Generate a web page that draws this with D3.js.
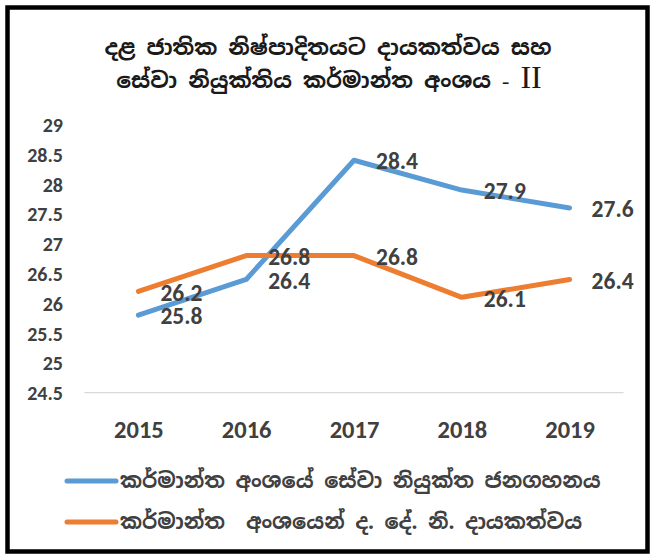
<!DOCTYPE html>
<html>
<head>
<meta charset="utf-8">
<script src="https://cdn.jsdelivr.net/npm/d3@7"></script>
<style>
  html, body { margin: 0; padding: 0; background: #fff; }
  svg { display: block; }
</style>
</head>
<body>
<svg id="chart" width="651" height="557"></svg>
<script>
const years = ["2015", "2016", "2017", "2018", "2019"];
const serviceEmployment = [25.8, 26.4, 28.4, 27.9, 27.6];
const gdpContribution = [26.2, 26.8, 26.8, 26.1, 26.4];
const yTicks = [24.5, 25, 25.5, 26, 26.5, 27, 27.5, 28, 28.5, 29];
const titleLine1 = "දළ ජාතික නිෂ්පාදිතයට දායකත්වය සහ";
const titleLine2 = "සේවා නියුක්තිය කර්මාන්ත අංශය";
const titleDash = "  -  ";
const titleNumeral = "II";
const seriesNames = ["කර්මාන්ත අංශයේ සේවා නියුක්ත ජනගහනය", "කර්මාන්ත  අංශයෙන් ද. දේ. නි. දායකත්වය"];
const seriesColors = ["#5B9BD5", "#ED7D31"];

const svg = d3.select("#chart");
const numFont = "Carlito, Lato, 'Liberation Sans', sans-serif";
const sinFont = "'Noto Sans Sinhala', 'Iskoola Pota', 'Noto Serif Sinhala', 'Noto Sans', sans-serif";
const serifFont = "'Liberation Serif', 'DejaVu Serif', serif";

svg.append("rect").attr("x", 7.5).attr("y", 7.5).attr("width", 640).attr("height", 544)
  .attr("fill", "#fff").attr("stroke", "#000").attr("stroke-width", 4.5);

svg.append("text").attr("text-anchor", "middle").attr("x", 328).attr("y", 55)
  .attr("font-family", sinFont).attr("font-size", 22).attr("font-weight", "bold").attr("fill", "#1a1a1a")
  .text(titleLine1);
const t2 = svg.append("text").attr("text-anchor", "middle").attr("x", 329).attr("y", 88)
  .attr("font-family", sinFont).attr("font-size", 22).attr("font-weight", "bold").attr("fill", "#1a1a1a")
  .attr("xml:space", "preserve").style("white-space", "pre");
t2.append("tspan").text(titleLine2);
t2.append("tspan").attr("font-family", serifFont).attr("font-weight", "normal")
  .attr("font-size", 22).text(titleDash);
t2.append("tspan").attr("font-family", serifFont).attr("font-weight", "normal")
  .attr("font-size", 32).text(titleNumeral);

const x = d3.scalePoint().domain(years).range([84.5, 623.5]).padding(0.5);
const y = d3.scaleLinear().domain([24.5, 29]).range([392.7, 124.5]);

// y axis labels (no line)
const yAxis = d3.axisLeft(y).tickValues(yTicks).tickSize(0).tickPadding(0).tickFormat(d3.format("~g"));
const gy = svg.append("g").attr("transform", "translate(63,0)").call(yAxis);
gy.select(".domain").remove();
gy.selectAll("text").attr("font-family", numFont).attr("font-size", 20).attr("font-weight", "bold")
  .attr("fill", "#404040").attr("dy", "0.35em");

// x axis
const xAxis = d3.axisBottom(x).tickSize(0).tickPadding(0);
const gx = svg.append("g").attr("transform", "translate(0,392.7)").call(xAxis);
gx.select(".domain").attr("stroke", "#d9d9d9").attr("stroke-width", 1.2)
  .attr("d", "M84.5,0H623.5");
gx.selectAll("text").attr("font-family", numFont).attr("font-size", 24.5).attr("font-weight", "bold")
  .attr("fill", "#404040").attr("y", 37).attr("dy", "0.35em");

const series = [serviceEmployment, gdpContribution];
const line = d3.line().x((d, i) => x(years[i])).y(d => y(d));

series.forEach((vals, si) => {
  svg.append("path").datum(vals).attr("d", line).attr("fill", "none")
    .attr("stroke", seriesColors[si]).attr("stroke-width", 5)
    .attr("stroke-linecap", "round").attr("stroke-linejoin", "round");
});

series.forEach((vals, si) => {
  svg.append("g").selectAll("text").data(vals).join("text")
    .attr("x", (d, i) => x(years[i]) + 22)
    .attr("y", d => y(d) + 1)
    .attr("dy", "0.35em")
    .attr("font-family", numFont).attr("font-size", 23.5).attr("font-weight", "bold")
    .attr("fill", "#404040")
    .text(d => d3.format(".1f")(d));
});

// legend
const legendY = [481, 522];
seriesNames.forEach((name, i) => {
  svg.append("line").attr("x1", 67).attr("x2", 116).attr("y1", legendY[i]).attr("y2", legendY[i])
    .attr("stroke", seriesColors[i]).attr("stroke-width", 5).attr("stroke-linecap", "round");
  svg.append("text").attr("x", 120).attr("y", legendY[i]).attr("dy", "0.35em")
    .attr("font-family", sinFont).attr("font-size", 21).attr("font-weight", "bold")
    .attr("fill", "#404040").attr("xml:space", "preserve").style("white-space", "pre").text(name);
});
</script>
</body>
</html>
